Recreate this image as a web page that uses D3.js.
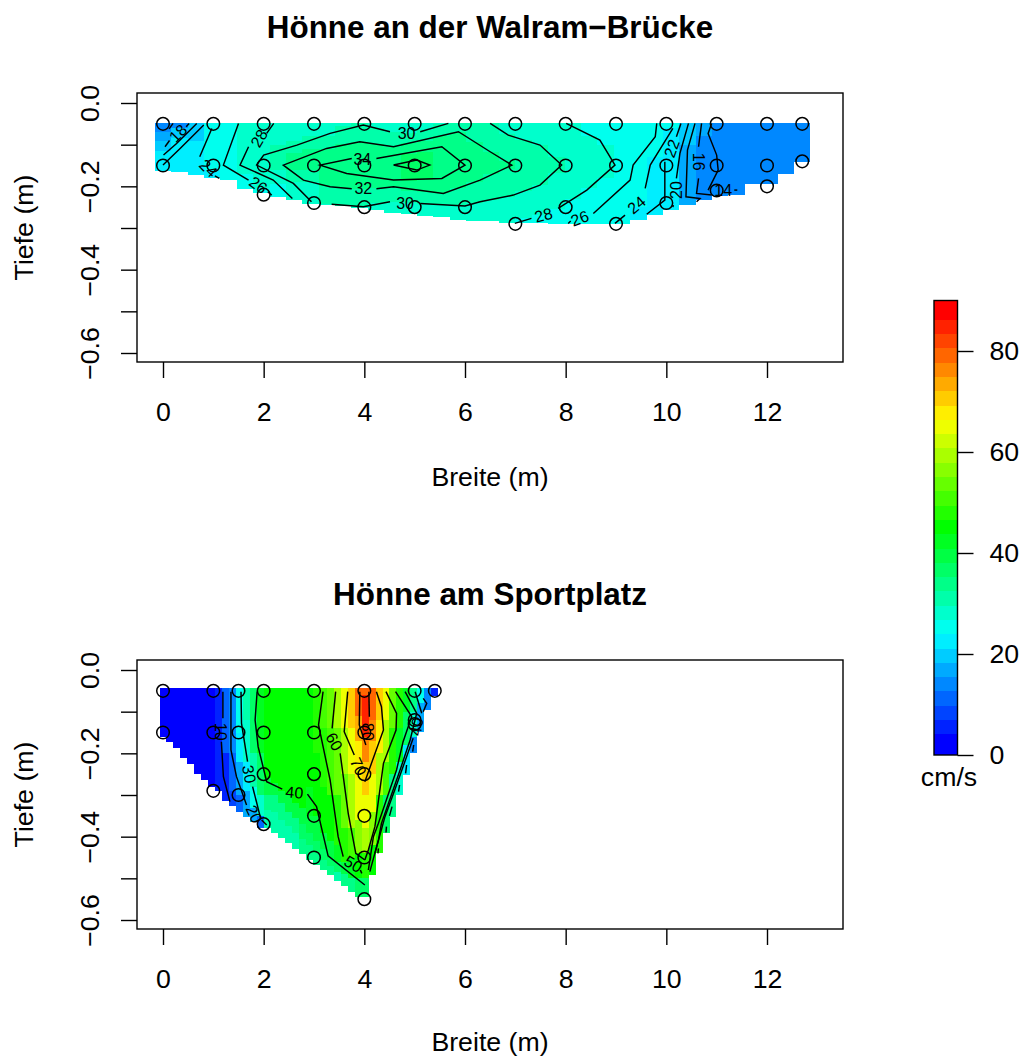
<!DOCTYPE html>
<html><head><meta charset="utf-8"><style>html,body{margin:0;background:#fff}svg{display:block}text{font-family:"Liberation Sans",Arial,sans-serif;fill:#000}</style>
<script src="https://cdn.jsdelivr.net/npm/d3@7"></script></head><body><div id="c"></div>
<script>
// ---------- panel 1: Hönne an der Walram-Brücke ----------
const topTitle = "Hönne an der Walram\u2212Brücke";
const topXs = [0,.3256,.6513,.9769,1.3026,1.6282,1.9538,2.2795,2.6051,2.9308,3.2564,3.5821,3.9077,4.2333,4.559,4.8846,5.2103,5.5359,5.8615,6.1872,6.5128,6.8385,7.1641,7.4897,7.8154,8.141,8.4667,8.7923,9.1179,9.4436,9.7692,10.0949,10.4205,10.7462,11.0718,11.3974,11.7231,12.0487,12.3744,12.7];
// each column: [depth at which the band ends, cm/s]
const topCols = [
 [[.07,13],[.09,16],[.115,19],[.163,22]],
 [[.06,15],[.085,19],[.166,22]],
 [[.06,19],[.09,21],[.173,23]],
 [[.16,24.5],[.18,23]],
 [[.185,25]],
 [[.17,27],[.206,25]],
 [[.07,27],[.12,28],[.18,29],[.205,27],[.216,25]],
 [[.06,27],[.1,29],[.16,31],[.195,28],[.226,25]],
 [[.09,29],[.12,31],[.16,33],[.19,31],[.233,27]],
 [[.08,29],[.11,31],[.13,33],[.16,33],[.19,32],[.24,29],[.242,28]],
 [[.078,29],[.11,31],[.145,33],[.162,35],[.2,33],[.243,31],[.245,28]],
 [[.055,29],[.098,31],[.137,33],[.168,35],[.204,33],[.247,31]],
 [[.093,31],[.135,33],[.176,35],[.206,33],[.247,31],[.252,28]],
 [[.06,29],[.098,31],[.133,33],[.183,35],[.204,33],[.24,31],[.257,28]],
 [[.07,29],[.105,31],[.127,33],[.185,35],[.201,33],[.238,31],[.264,28]],
 [[.073,29],[.095,31],[.122,33],[.186,35.5],[.21,33],[.241,31],[.266,28]],
 [[.065,29],[.09,31],[.117,33],[.184,35.5],[.214,33],[.242,31],[.271,28]],
 [[.05,29],[.08,31],[.105,33],[.181,35],[.217,33],[.243,31],[.274,28]],
 [[.069,30],[.13,33],[.165,35],[.205,33],[.245,31],[.281,28]],
 [[.093,31],[.19,33],[.24,31],[.283,28]],
 [[.117,31],[.17,33],[.232,31],[.283,28]],
 [[.075,29],[.14,31],[.158,33],[.225,31],[.288,28]],
 [[.088,29],[.21,31],[.277,28],[.288,26]],
 [[.101,29],[.197,31],[.268,28],[.288,26]],
 [[.13,29],[.168,31],[.255,28],[.29,26]],
 [[.23,28],[.29,26]],
 [[.078,26],[.205,28],[.27,26],[.29,25]],
 [[.1,26],[.18,28],[.24,26],[.29,25]],
 [[.2,26],[.29,24.5]],
 [[.25,25],[.281,22]],
 [[.085,26],[.13,25],[.25,23],[.269,21.5]],
 [[.06,25],[.12,23],[.257,21.5]],
 [[.1,20],[.245,17]],
 [[.08,16],[.233,14.5]],
 [[.223,13]],
 [[.221,13]],
 [[.194,13]],
 [[.194,13]],
 [[.17,13]],
 [[.142,13]]
];
const topPtX = [0,1,2,3,4,5,6,7,8,9,10,11,12,12.7, 0,1,2,3,4,5,6,7,8,9,10,11,12,12.7, 2,3,4,5,6,7,8,9,10,11,12];
const topPtD = [.05,.05,.05,.05,.05,.05,.05,.05,.05,.05,.05,.05,.05,.05, .15,.15,.15,.15,.15,.15,.15,.15,.15,.15,.15,.15,.15,.14, .22,.24,.25,.25,.25,.29,.25,.29,.24,.21,.2];
const topLines = [
 [[4.58,.149],[5.04,.137],[5.3,.149],[5.04,.161],[4.58,.149]],
 [[3.75,.133],[3.12,.149],[3.65,.169],[4.58,.185],[5.54,.181],[6,.149],[5.54,.105],[4.24,.133]],
 [[3.75,.206],[3.32,.201],[2.79,.185],[2.39,.149],[3.25,.109],[3.91,.093],[4.58,.105],[5.87,.069],[6.5,.117],[6.93,.149],[6.3,.185],[5.57,.217],[4.58,.201],[4.24,.206]],
 [[4.51,.069],[3.98,.053],[3.32,.073],[2.66,.101],[2,.125],[1.86,.149],[2.39,.181],[2.59,.193],[2.95,.237]],
 [[5.11,.069],[5.67,.049]],
 [[6.5,.049],[6.86,.077],[7.49,.101],[7.92,.149],[7.49,.197],[6.96,.221],[6.3,.237],[6,.247],[5.11,.241]],
 [[4.51,.237],[3.98,.249],[3.35,.243]],
 [[2.2,.049],[2.06,.073]],
 [[1.7,.105],[1.53,.149],[2.19,.185],[2.57,.229]],
 [[8.01,.049],[8.68,.089],[8.98,.149],[8.42,.209],[7.85,.253]],
 [[7.32,.277],[6.99,.289]],
 [[1.5,.049],[1.2,.149],[1.7,.185]],
 [[2.08,.213],[2.16,.221]],
 [[9.81,.049],[9.78,.081],[9.34,.149],[9.28,.185],[8.55,.265]],
 [[8.1,.283],[8.05,.289]],
 [[.97,.061],[.73,.129]],
 [[1.03,.175],[1.12,.181]],
 [[10.13,.061],[9.68,.149],[9.58,.205]],
 [[9.18,.269],[8.98,.289]],
 [[.81,.053],[.34,.109],[0,.149]],
 [[10.29,.049],[10.2,.081]],
 [[9.97,.141],[9.97,.233],[9.61,.267]],
 [[.67,.049],[.27,.097],[.01,.125]],
 [[10.44,.049],[10.27,.121],[10.2,.181]],
 [[10.14,.245],[10.13,.25]],
 [[.52,.049],[.46,.057]],
 [[.13,.09],[.04,.105]],
 [[10.57,.049],[10.42,.113],[10.39,.225],[10.67,.229],[10.6,.237]],
 [[.2,.049],[.12,.062]],
 [[10.7,.049],[10.64,.105]],
 [[10.64,.181],[10.6,.217],[10.9,.221]],
 [[10.9,.049],[10.83,.073],[11,.125],[11.03,.161],[10.83,.209]],
 [[11.35,.209],[11.41,.209]]
];
const topLabels = [["18",.3,.073,-45],["24",.9,.157,45],["26",1.89,.197,35],["28",1.91,.085,-60],["30",4.84,.073,0],["34",3.96,.135,0],["32",3.98,.206,0],["30",4.81,.241,0],["28",7.56,.269,-15],["26",8.28,.277,-20],["24",9.41,.245,-40],["22",10.11,.109,-70],["20",10.2,.209,-90],["16",10.64,.141,90],["14",11.13,.209,0]];

// ---------- panel 2: Hönne am Sportplatz ----------
const botTitle = "Hönne am Sportplatz";
const botXs = [0,.1385,.2769,.4154,.5538,.6923,.8308,.9692,1.1077,1.2462,1.3846,1.5231,1.6615,1.8,1.9385,2.0769,2.2154,2.3538,2.4923,2.6308,2.7692,2.9077,3.0462,3.1846,3.3231,3.4615,3.6,3.7385,3.8769,4.0154,4.1538,4.2923,4.4308,4.5692,4.7077,4.8462,4.9846,5.1231,5.2615,5.4];
const botCols = [
 [[.16,2]],[[.172,2]],[[.188,2]],[[.212,2]],[[.226,2]],[[.25,2]],[[.264,2]],[[.28,2]],
 [[.29,5]],
 [[.2,10],[.314,6]],
 [[.2,15],[.29,10],[.326,7]],
 [[.15,25],[.22,22],[.3,16],[.34,12]],
 [[.12,32],[.22,28],[.29,22],[.352,17]],
 [[.2,37],[.28,32],[.33,25],[.364,16]],
 [[.2,42],[.3,36],[.35,28],[.378,12]],
 [[.26,45],[.3,40],[.335,35],[.378,30]],
 [[.27,45],[.3,40],[.34,35],[.39,30]],
 [[.29,45],[.32,40],[.36,35],[.404,30]],
 [[.3,45],[.34,40],[.375,35],[.416,30]],
 [[.32,45],[.355,40],[.39,35],[.43,31]],
 [[.33,45],[.37,40],[.405,36],[.442,33]],
 [[.28,46],[.35,43],[.39,39],[.42,36],[.456,33]],
 [[.2,47],[.35,44],[.41,40],[.44,36],[.468,33]],
 [[.14,50],[.28,48],[.39,44],[.43,40],[.455,36],[.48,33]],
 [[.14,54],[.3,50],[.41,46],[.45,40],[.47,36],[.492,33]],
 [[.14,58],[.3,54],[.42,49],[.46,41],[.485,36],[.506,32]],
 [[.14,65],[.25,58],[.38,53],[.46,49],[.49,40],[.518,33]],
 [[.14,72],[.25,64],[.38,58],[.45,52],[.5,42],[.532,34]],
 [[.11,79],[.17,73],[.26,68],[.36,64],[.44,56],[.5,46],[.544,37]],
 [[.06,80],[.16,84],[.22,75],[.3,72],[.38,66],[.44,60],[.5,48],[.544,38]],
 [[.12,80],[.17,76],[.25,70],[.34,64],[.42,56],[.492,44]],
 [[.12,72],[.2,68],[.3,60],[.44,48]],
 [[.12,64],[.22,58],[.3,50],[.392,38]],
 [[.14,55],[.25,47],[.352,34]],
 [[.14,49],[.22,42],[.3,28]],
 [[.1,43],[.18,38],[.252,22]],
 [[.1,33],[.16,28],[.2,15]],
 [[.08,25],[.148,16]],
 [[.096,14]],
 [[.062,5]]
];
const botPtX = [0,1,1.5,2,3,4,5,5.4, 0,1,1.5,2,3,4,5,5, 2,3,4, 1,1.5,2,3,4,3,4,4];
const botPtD = [.05,.05,.05,.05,.05,.05,.05,.05, .15,.15,.15,.15,.15,.15,.12,.13, .25,.25,.25, .29,.3,.37,.35,.35,.45,.45,.55];
const botLines = [
 [[1.19,.052],[1.19,.116]],
 [[1.16,.172],[1.2,.256],[1.33,.316]],
 [[1.35,.052],[1.35,.192],[1.46,.256],[1.66,.324]],
 [[1.96,.36],[2.06,.372]],
 [[1.55,.052],[1.56,.128],[1.68,.22]],
 [[1.78,.28],[1.94,.356]],
 [[1.87,.052],[1.83,.12],[1.89,.184],[2.06,.268],[2.37,.286]],
 [[2.87,.298],[3.05,.328],[3.28,.446],[4.01,.516]],
 [[3.18,.052],[3.09,.132],[3.32,.264],[3.48,.4],[3.58,.448]],
 [[3.92,.48],[3.95,.488]],
 [[3.43,.052],[3.36,.14]],
 [[3.52,.2],[3.68,.344],[3.83,.44],[4.01,.456]],
 [[3.67,.052],[3.6,.148],[3.8,.204]],
 [[4.01,.268],[4.38,.144],[4.34,.088],[4.24,.052]],
 [[3.91,.052],[3.9,.132],[4.03,.18]],
 [[4.09,.052],[4.1,.112]],
 [[4.43,.052],[4.64,.104],[4.63,.144],[4.38,.224],[4.21,.376],[4.08,.432],[4.01,.456]],
 [[4.62,.052],[4.94,.112],[4.77,.172],[4.64,.24],[4.28,.368],[4.18,.4],[4.08,.48]],
 [[4.81,.052],[5.04,.104],[4.91,.168],[4.71,.24],[4.34,.368],[4.28,.408],[4.11,.484]],
 [[5.01,.052],[5.14,.104]],
 [[4.97,.164],[4.64,.276],[4.41,.352],[4.21,.44]],
 [[5.17,.068],[5.24,.08],[5.17,.1]],
 [[4.98,.18],[4.96,.196]],[[4.84,.228],[4.82,.248]],[[4.7,.276],[4.68,.292]],[[4.55,.328],[4.5,.35]],[[4.44,.376],[4.43,.39]],[[4.28,.428],[4.27,.44]]
];
const botLabels = [["10",1.15,.148,90],["20",1.81,.346,65],["30",1.71,.25,80],["40",2.61,.294,5],["50",3.78,.466,30],["60",3.4,.172,60],["70",3.88,.232,65],["80",4.06,.148,90],["40",5.04,.136,-80]];

// ---------- shared axes and legend ----------
const xTicks = [0,2,4,6,8,10,12];
const yTicks = [0,-.1,-.2,-.3,-.4,-.5,-.6];
const yLabelled = [0,-.2,-.4,-.6];
const legendTicks = [0,20,40,60,80];
const legendMax = 90;
const bandCount = 31;
const bandFirst = 4.1, bandStep = 2.83;
const xAxisTitle = "Breite (m)", yAxisTitle = "Tiefe (m)", unitLabel = "cm/s";

const W=1022,H=1057;
const svg=d3.select("#c").append("svg").attr("width",W).attr("height",H);
const thresholds=d3.range(bandCount-1).map(i=>bandFirst+i*bandStep);
const colors=d3.range(bandCount).map(i=>d3.hsl(240-8*i,1,.5).formatHex());
const color=d3.scaleThreshold().domain(thresholds).range(colors);
const fmt=v=>(v<0?"\u2212":"")+Math.abs(v).toFixed(1);
const lineGen=d3.line();
const FS=26.7;

function panel(yTop,title,xs,cols,ptX,ptD,lines,labels,cellH){
  const box={l:137,r:843,t:yTop,b:yTop+269};
  const x=d3.scaleLinear().domain([0,12]).range([163,767]);
  const y=d3.scaleLinear().domain([0,-.6]).range([box.t+10,box.t+260]);
  const g=svg.append("g");
  const half=(xs[1]-xs[0])/2;
  const topEdge=.05-cellH/2;
  xs.forEach((xv,i)=>{
    let prev=topEdge;
    cols[i].forEach(([end,v])=>{
      g.append("rect").attr("x",x(xv-half)).attr("width",x(xv+half)-x(xv-half))
       .attr("y",y(-prev)).attr("height",y(-end)-y(-prev)).attr("fill",color(v))
       .attr("shape-rendering","crispEdges");
      prev=end;
    });
  });
  g.selectAll(".ct").data(lines).join("path").attr("fill","none").attr("stroke","#000").attr("stroke-width",1.45)
    .attr("d",s=>lineGen(s.map(p=>[x(p[0]),y(-p[1])])));
  g.selectAll(".lb").data(labels).join("text").attr("font-size",16).attr("text-anchor","middle").attr("dominant-baseline","central")
    .attr("transform",d=>`translate(${x(d[1])},${y(-d[2])}) rotate(${d[3]})`).text(d=>d[0]);
  g.selectAll(".pt").data(ptX).join("circle").attr("cx",d=>x(d)).attr("cy",(d,i)=>y(-ptD[i])).attr("r",6.3)
    .attr("fill","none").attr("stroke","#000").attr("stroke-width",1.5);
  g.append("rect").attr("x",box.l).attr("y",box.t).attr("width",box.r-box.l).attr("height",box.b-box.t)
    .attr("fill","none").attr("stroke","#000").attr("stroke-width",1.4);
  const ax=g.append("g").attr("transform",`translate(0,${box.b})`)
    .call(d3.axisBottom(x).tickValues(xTicks).tickSize(16).tickPadding(24.5).tickFormat(d3.format("d")));
  ax.select(".domain").remove();
  const ay=g.append("g").attr("transform",`translate(${box.l},0)`)
    .call(d3.axisLeft(y).tickValues(yTicks).tickSize(16).tickFormat(d=>yLabelled.some(v=>Math.abs(v-d)<1e-9)?fmt(d):""));
  ay.select(".domain").remove();
  [ax,ay].forEach(a=>{a.selectAll("line").attr("stroke","#000").attr("stroke-width",1.4);a.selectAll("text").attr("font-size",FS).attr("font-family",'"Liberation Sans"').attr("fill","#000");});
  ay.selectAll("text").attr("x",0).attr("y",0).attr("dy",0).attr("text-anchor","middle").attr("dominant-baseline","central")
    .attr("transform","translate(-47,0) rotate(-90)");
  g.append("text").attr("x",490).attr("y",box.t-55).attr("text-anchor","middle").attr("font-size",31.4).attr("font-weight","bold").text(title);
  g.append("text").attr("x",490).attr("y",Math.min(box.b+124,H-6)).attr("text-anchor","middle").attr("font-size",FS).text(xAxisTitle);
  g.append("text").attr("text-anchor","middle").attr("font-size",FS).attr("transform",`translate(33,${(box.t+box.b)/2}) rotate(-90)`).text(yAxisTitle);
}
panel(93,topTitle,topXs,topCols,topPtX,topPtD,topLines,topLabels,.0062);
panel(660,botTitle,botXs,botCols,botPtX,botPtD,botLines,botLabels,.0128);

// colour legend
const ly=d3.scaleLinear().domain([0,legendMax]).range([755,300.5]);
const edges=[0,...thresholds,legendMax];
const lg=svg.append("g");
lg.selectAll("rect").data(colors).join("rect").attr("x",934).attr("width",23.5)
  .attr("y",(d,i)=>ly(edges[i+1])).attr("height",(d,i)=>ly(edges[i])-ly(edges[i+1])).attr("fill",d=>d).attr("shape-rendering","crispEdges");
lg.append("rect").attr("x",934).attr("y",ly(legendMax)).attr("width",23.5).attr("height",ly(0)-ly(legendMax)).attr("fill","none").attr("stroke","#000").attr("stroke-width",1.4);
const la=lg.append("g").attr("transform","translate(957.5,0)").call(d3.axisRight(ly).tickValues(legendTicks).tickSize(16).tickPadding(16).tickFormat(d3.format("d")));
la.select(".domain").remove();
la.selectAll("line").attr("stroke","#000").attr("stroke-width",1.4);
la.selectAll("text").attr("font-size",FS).attr("font-family",'"Liberation Sans"').attr("fill","#000");
lg.append("text").attr("x",949).attr("y",786).attr("text-anchor","middle").attr("font-size",FS).text(unitLabel);
</script></body></html>
